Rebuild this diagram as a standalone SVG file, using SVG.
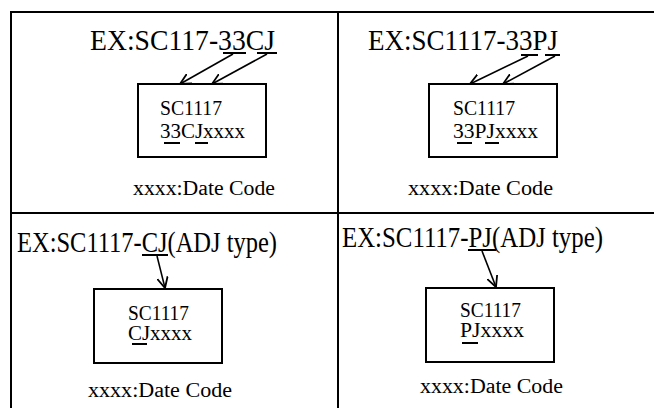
<svg xmlns="http://www.w3.org/2000/svg" width="654" height="408" viewBox="0 0 654 408">
<defs>
<style>
.t{font-family:"Liberation Serif","DejaVu Serif",serif;fill:#000}
.h{font-size:30px}
.b{font-size:21px}
.d{font-size:20px}
.ln{stroke:#000;stroke-width:2;fill:none}
.ul{stroke:#000;stroke-width:2}
.ar{stroke:#000;stroke-width:1.6;fill:none}
</style>
<marker id="ah" markerUnits="userSpaceOnUse" markerWidth="12" markerHeight="12" viewBox="0 0 10 10" refX="9" refY="5" orient="auto">
<path d="M0,0.5 L9,5 L0,9.5" fill="none" stroke="#000" stroke-width="1.5"/>
</marker>
</defs>
<rect width="654" height="408" fill="#fff"/>
<g id="frame" class="ln">
<line x1="10" y1="12" x2="654" y2="12"/>
<line x1="11" y1="11" x2="11" y2="408"/>
<line x1="338" y1="11" x2="338" y2="408"/>
<line x1="11" y1="213" x2="654" y2="213"/>
</g>
<g id="title-tl">
<text class="t h" x="90" y="50" textLength="185" lengthAdjust="spacingAndGlyphs">EX:SC117-33CJ</text>
<line class="ul" x1="223" y1="53" x2="246" y2="53"/>
<line class="ul" x1="257" y1="53" x2="277" y2="53"/>
</g>
<g id="box-tl">
<rect class="ln" x="138" y="84" width="128" height="73"/>
<text class="t b" x="160" y="115" textLength="62" lengthAdjust="spacingAndGlyphs">SC1117</text>
<text class="t b" x="160" y="138" textLength="85" lengthAdjust="spacingAndGlyphs">33CJxxxx</text>
<line class="ul" x1="164" y1="143" x2="180" y2="143"/>
<line class="ul" x1="195" y1="143" x2="208" y2="143"/>
</g>
<g id="date-tl"><text class="t d" x="133" y="195" textLength="142" lengthAdjust="spacingAndGlyphs">xxxx:Date Code</text></g>
<g id="title-tr">
<text class="t h" x="368" y="50" textLength="190" lengthAdjust="spacingAndGlyphs">EX:SC1117-33PJ</text>
<line class="ul" x1="521" y1="55" x2="538" y2="55"/>
<line class="ul" x1="545" y1="55" x2="560" y2="55"/>
</g>
<g id="box-tr">
<rect class="ln" x="429" y="84" width="128" height="73"/>
<text class="t b" x="453" y="115" textLength="62" lengthAdjust="spacingAndGlyphs">SC1117</text>
<text class="t b" x="453" y="138" textLength="85" lengthAdjust="spacingAndGlyphs">33PJxxxx</text>
<line class="ul" x1="457" y1="143" x2="472" y2="143"/>
<line class="ul" x1="485" y1="143" x2="499" y2="143"/>
</g>
<g id="date-tr"><text class="t d" x="408" y="195" textLength="145" lengthAdjust="spacingAndGlyphs">xxxx:Date Code</text></g>
<g id="title-bl">
<text class="t h" x="17" y="252" textLength="260" lengthAdjust="spacingAndGlyphs">EX:SC1117-CJ(ADJ type)</text>
<line class="ul" x1="142" y1="255" x2="168" y2="255"/>
</g>
<g id="box-bl">
<rect class="ln" x="94" y="289" width="128" height="74"/>
<text class="t b" x="128" y="320" textLength="61" lengthAdjust="spacingAndGlyphs">SC1117</text>
<text class="t b" x="128" y="340" textLength="64" lengthAdjust="spacingAndGlyphs">CJxxxx</text>
<line class="ul" x1="132" y1="344" x2="147" y2="344"/>
</g>
<g id="date-bl"><text class="t d" x="88" y="397" textLength="144" lengthAdjust="spacingAndGlyphs">xxxx:Date Code</text></g>
<g id="title-br">
<text class="t h" x="342" y="247" textLength="261" lengthAdjust="spacingAndGlyphs">EX:SC1117-PJ(ADJ type)</text>
<line class="ul" x1="468" y1="250" x2="496" y2="250"/>
</g>
<g id="box-br">
<rect class="ln" x="426" y="288" width="128" height="74"/>
<text class="t b" x="460" y="317" textLength="61" lengthAdjust="spacingAndGlyphs">SC1117</text>
<text class="t b" x="460" y="337" textLength="64" lengthAdjust="spacingAndGlyphs">PJxxxx</text>
<line class="ul" x1="462" y1="343" x2="478" y2="343"/>
</g>
<g id="date-br"><text class="t d" x="420" y="393" textLength="143" lengthAdjust="spacingAndGlyphs">xxxx:Date Code</text></g>
<g id="connectors" class="ar">
<line x1="233" y1="54" x2="180" y2="84" marker-end="url(#ah)"/>
<line x1="267" y1="54" x2="212" y2="84" marker-end="url(#ah)"/>
<line x1="528" y1="56" x2="470" y2="84" marker-end="url(#ah)"/>
<line x1="555" y1="56" x2="503" y2="84" marker-end="url(#ah)"/>
<line x1="157" y1="256" x2="165" y2="288" marker-end="url(#ah)"/>
<line x1="482" y1="251" x2="496" y2="287" marker-end="url(#ah)"/>
</g>
</svg>
